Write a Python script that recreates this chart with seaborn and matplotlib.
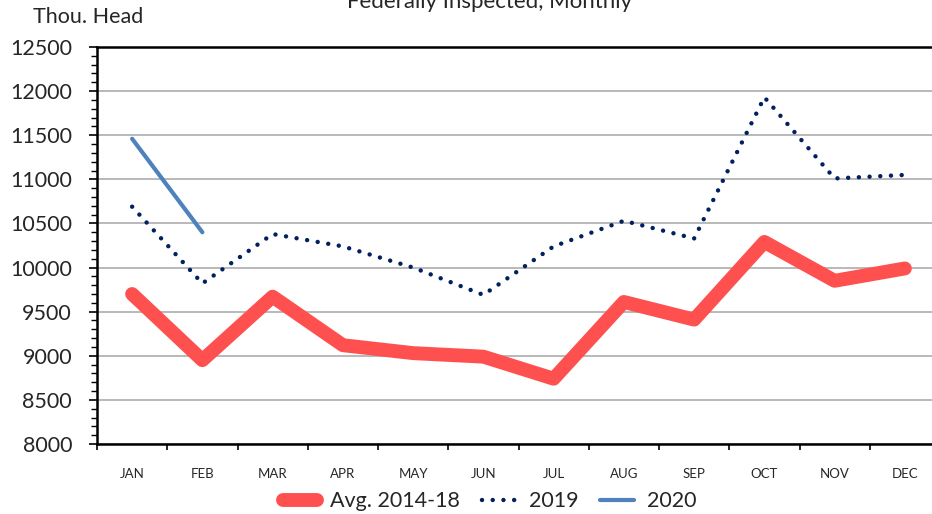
import pandas as pd
import matplotlib.pyplot as plt
import seaborn as sns
from matplotlib.ticker import MultipleLocator, FixedLocator

months = ["JAN", "FEB", "MAR", "APR", "MAY", "JUN", "JUL", "AUG", "SEP", "OCT", "NOV", "DEC"]
avg_2014_18 = [9700, 8950, 9670, 9120, 9030, 8990, 8740, 9610, 9410, 10290, 9850, 9990]
y2019 = [10690, 9820, 10380, 10240, 10000, 9690, 10240, 10530, 10330, 11930, 11010, 11050]
y2020 = [11460, 10400]

sns.set_theme(style="white")
plt.rcParams['font.family'] = ['Lato', 'DejaVu Sans']

fig = plt.figure(figsize=(9.32, 5.14), dpi=100)
ax = fig.add_axes([97 / 932, 70 / 514, 843 / 932, 397 / 514])

df_avg = pd.DataFrame({"Month": months, "Value": avg_2014_18})
df_19 = pd.DataFrame({"Month": months, "Value": y2019})
df_20 = pd.DataFrame({"Month": months[:len(y2020)], "Value": y2020})

sns.lineplot(data=df_avg, x="Month", y="Value", sort=False, ax=ax, color="#FF5050",
             linewidth=10, solid_capstyle="round", solid_joinstyle="round", label="Avg. 2014-18")
sns.lineplot(data=df_19, x="Month", y="Value", sort=False, ax=ax, color="#002060",
             linewidth=3.2, linestyle=(0, (0.01, 2.4)), dash_capstyle="round", label="2019")
sns.lineplot(data=df_20, x="Month", y="Value", sort=False, ax=ax, color="#4F81BD",
             linewidth=3, solid_capstyle="round", label="2020")

ax.set_xlim(-0.5, 11.5)
ax.set_ylim(8000, 12500)
ax.yaxis.set_major_locator(MultipleLocator(500))
ax.yaxis.set_minor_locator(MultipleLocator(100))
ax.xaxis.set_minor_locator(FixedLocator([i - 0.5 for i in range(len(months) + 1)]))
ax.grid(axis="y", which="major", color="#A6A6A6", linewidth=1.1)
ax.set_axisbelow(True)
ax.set_xlabel("")
ax.set_ylabel("")

for side in ["left", "bottom", "top"]:
    ax.spines[side].set_color("black")
    ax.spines[side].set_linewidth(1.8)
ax.spines["right"].set_visible(False)

ax.tick_params(axis="y", which="major", left=True, length=6, width=1.2, color="black",
               labelsize=15.5, pad=12, direction="out")
ax.tick_params(axis="y", which="minor", left=True, length=4, width=1, color="black", direction="out")
ax.tick_params(axis="x", which="major", bottom=False, labelsize=9.5, pad=11)
ax.tick_params(axis="x", which="minor", bottom=True, length=4, width=1.2, color="black", direction="out")

fig.text(33 / 932, 1 - 17 / 514, "Thou. Head", fontsize=15.5, va="center", ha="left")
fig.text(490 / 932, 1 - 2 / 514, "Federally Inspected, Monthly", fontsize=16, va="center", ha="center")

leg = ax.legend(loc="upper center", bbox_to_anchor=(0.466, -0.07), ncol=3, frameon=False,
                fontsize=15.5, handlelength=1.6, handletextpad=0.6, columnspacing=1.0)

fig.savefig("out.png", dpi=100)
